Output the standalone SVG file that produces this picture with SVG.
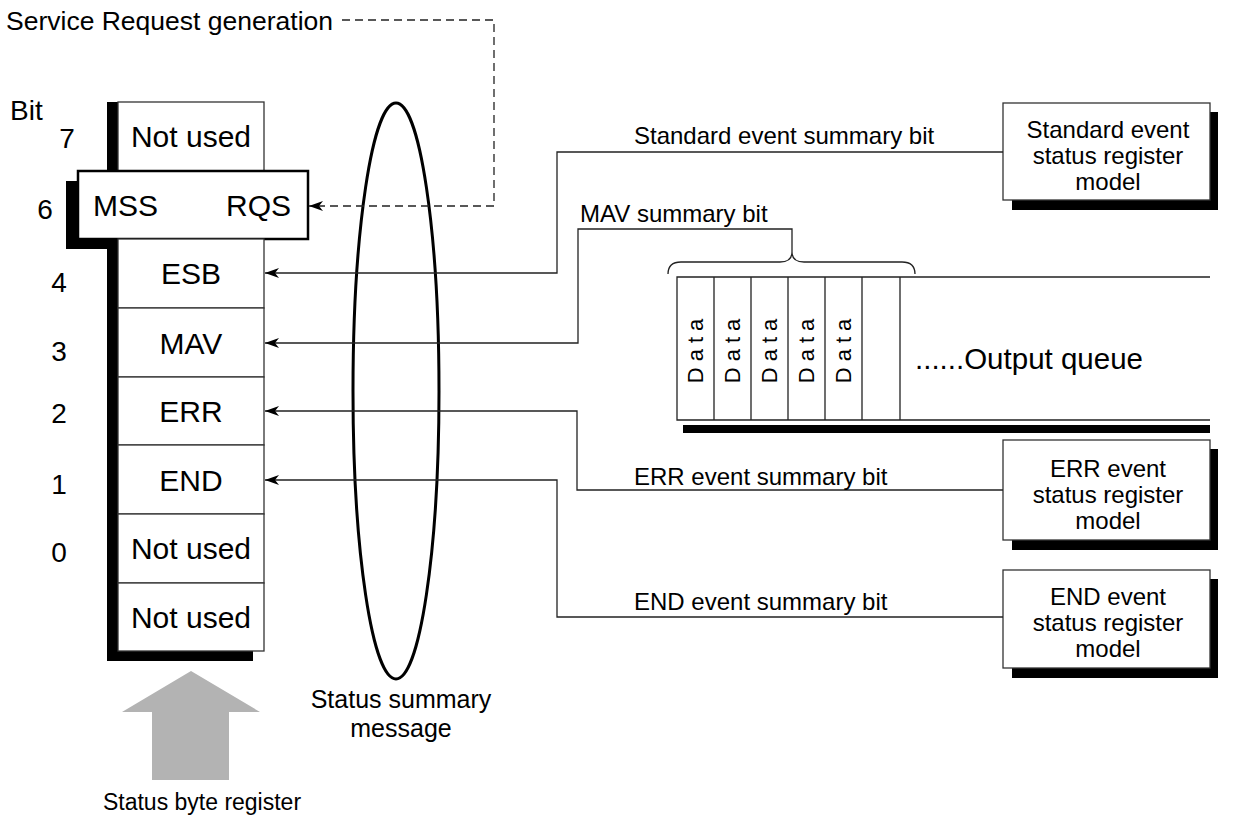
<svg xmlns="http://www.w3.org/2000/svg" width="1244" height="816" viewBox="0 0 1244 816">
<style>
text{font-family:"Liberation Sans",Arial,sans-serif;fill:#000}
.cell{fill:#fff;stroke:#333;stroke-width:1.3}
.big{font-size:30px}
.dig{font-size:28px}
.lab{font-size:24px}
.mid{text-anchor:middle}
.con{fill:none;stroke:#222;stroke-width:1.3}
.dash{fill:none;stroke:#222;stroke-width:1.3;stroke-dasharray:8 5}
.box{fill:#fff;stroke:#333;stroke-width:1.3}
.sh{fill:#000}
</style>
<defs>
<marker id="ah" markerUnits="userSpaceOnUse" markerWidth="16" markerHeight="12" refX="14" refY="6" orient="auto">
<path d="M0,1 L14,6 L0,11 L4,6 z" fill="#000"/>
</marker>
</defs>
<rect width="1244" height="816" fill="#fff"/>

<text x="6" y="30" style="font-size:26.5px">Service Request generation</text>

<g id="register">
<rect class="sh" x="107" y="102" width="146" height="559"/>
<rect class="sh" x="66" y="181" width="52" height="68"/>
<rect class="cell" x="118" y="102" width="146" height="69"/>
<text class="big mid" x="191" y="147">Not used</text>
<rect fill="#fff" stroke="#000" stroke-width="2.5" x="78" y="171" width="230" height="68"/>
<text class="big" x="93" y="216">MSS</text>
<text class="big" x="291" y="216" text-anchor="end">RQS</text>
<rect class="cell" x="118" y="239" width="146" height="69"/>
<text class="big mid" x="191" y="284">ESB</text>
<rect class="cell" x="118" y="308" width="146" height="69"/>
<text class="big mid" x="191" y="354">MAV</text>
<rect class="cell" x="118" y="377" width="146" height="68"/>
<text class="big mid" x="191" y="422">ERR</text>
<rect class="cell" x="118" y="445" width="146" height="69"/>
<text class="big mid" x="191" y="491">END</text>
<rect class="cell" x="118" y="514" width="146" height="69"/>
<text class="big mid" x="191" y="559">Not used</text>
<rect class="cell" x="118" y="583" width="146" height="68"/>
<text class="big mid" x="191" y="628">Not used</text>
</g>

<g id="bits">
<text class="dig" x="10" y="120">Bit</text>
<text class="dig mid" x="67" y="148">7</text>
<text class="dig mid" x="45" y="219">6</text>
<text class="dig mid" x="59" y="292">4</text>
<text class="dig mid" x="59" y="361">3</text>
<text class="dig mid" x="59" y="423">2</text>
<text class="dig mid" x="59" y="494">1</text>
<text class="dig mid" x="59" y="562">0</text>
</g>

<g id="summary-ellipse">
<ellipse cx="396" cy="391" rx="43" ry="288" fill="none" stroke="#000" stroke-width="3"/>
<text class="mid" x="401" y="708" style="font-size:25px">Status summary</text>
<text class="mid" x="401" y="737" style="font-size:25px">message</text>
</g>

<g id="status-byte-arrow">
<polygon points="191,671 260,712 229,712 229,780 152,780 152,712 122,712" fill="#b3b3b3"/>
<text class="mid" x="202" y="810" style="font-size:23px">Status byte register</text>
</g>

<g id="std-box">
<rect class="sh" x="1012" y="112" width="206" height="98"/>
<rect class="box" x="1003" y="103" width="207" height="97"/>
<text class="lab mid" x="1108" y="138">Standard event</text>
<text class="lab mid" x="1108" y="164">status register</text>
<text class="lab mid" x="1108" y="190">model</text>
</g>

<g id="err-box">
<rect class="sh" x="1012" y="449" width="206" height="101"/>
<rect class="box" x="1003" y="440" width="207" height="100"/>
<text class="lab mid" x="1108" y="477">ERR event</text>
<text class="lab mid" x="1108" y="503">status register</text>
<text class="lab mid" x="1108" y="529">model</text>
</g>

<g id="end-box">
<rect class="sh" x="1012" y="579" width="206" height="99"/>
<rect class="box" x="1003" y="570" width="207" height="98"/>
<text class="lab mid" x="1108" y="605">END event</text>
<text class="lab mid" x="1108" y="631">status register</text>
<text class="lab mid" x="1108" y="657">model</text>
</g>

<g id="output-queue">
<rect class="sh" x="683" y="425" width="527" height="8"/>
<path class="con" d="M1210,277 H677 V420 H1210 M714,277 V420 M751,277 V420 M788,277 V420 M825,277 V420 M862,277 V420 M900,277 V420"/>
<g style="font-size:22px" letter-spacing="6">
<text transform="translate(703,348) rotate(-90)" text-anchor="middle">Data</text>
<text transform="translate(740,348) rotate(-90)" text-anchor="middle">Data</text>
<text transform="translate(777,348) rotate(-90)" text-anchor="middle">Data</text>
<text transform="translate(814,348) rotate(-90)" text-anchor="middle">Data</text>
<text transform="translate(851,348) rotate(-90)" text-anchor="middle">Data</text>
</g>
<text x="915" y="369" style="font-size:29.5px">......Output queue</text>
<path class="con" d="M668,274 Q668,262 681,262 H780 Q792,262 792,252 Q792,262 804,262 H902 Q915,262 915,274"/>
</g>

<g id="connectors">
<path class="dash" d="M342,20 H494 V206 H309" marker-end="url(#ah)"/>
<path class="con" d="M1003,152 H557 V273 H265" marker-end="url(#ah)"/>
<path class="con" d="M792,252 V229 H578 V343 H265" marker-end="url(#ah)"/>
<path class="con" d="M1003,490 H577 V411 H265" marker-end="url(#ah)"/>
<path class="con" d="M1003,617 H557 V480 H265" marker-end="url(#ah)"/>
<text class="lab" x="634" y="144">Standard event summary bit</text>
<text class="lab" x="580" y="222">MAV summary bit</text>
<text class="lab" x="634" y="485">ERR event summary bit</text>
<text class="lab" x="634" y="610">END event summary bit</text>
</g>
</svg>
